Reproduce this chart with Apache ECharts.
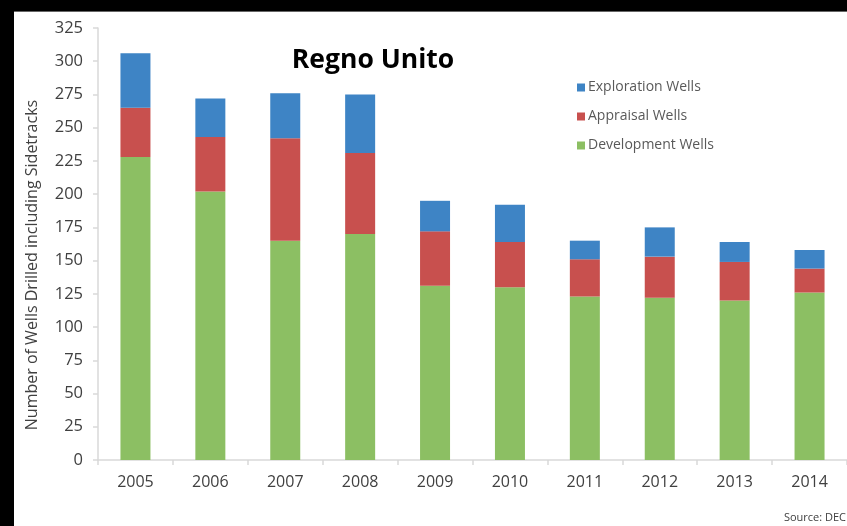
<!DOCTYPE html>
<html>
<head>
<meta charset="utf-8">
<script src="https://cdn.jsdelivr.net/npm/echarts@6/dist/echarts.min.js"></script>
<style>
  html, body { margin: 0; padding: 0; background: #000; }
  #wrap { position: absolute; left: 14px; top: 11px; width: 833px; height: 515px; overflow: hidden;
          background: #fff; border-top: 1px solid #666; }
  #chart { position: absolute; left: -14px; top: -12px; width: 847px; height: 526px; }
</style>
</head>
<body>
<div id="wrap">
  <div id="chart"></div>
</div>
<script>
// Wells drilled on the UK continental shelf, by well type
const years = ['2005', '2006', '2007', '2008', '2009', '2010', '2011', '2012', '2013', '2014'];
const developmentWells = [228, 202, 165, 170, 131, 130, 123, 122, 120, 126];
const appraisalWells   = [37, 41, 77, 61, 41, 34, 28, 31, 29, 18];
const explorationWells = [41, 29, 34, 44, 23, 28, 14, 22, 15, 14];
const yTicks = { min: 0, max: 325, interval: 25 };

const FONT = '"Open Sans", "Noto Sans", sans-serif';
const textGrey = '#595959';
const labelGrey = '#404040';
const axisGrey = '#d9d9d9';

const chart = echarts.init(document.getElementById('chart'));

const barSeries = (name, data, color) => ({
  name,
  type: 'bar',
  stack: 'wells',
  data,
  barWidth: 30,
  itemStyle: { color },
  emphasis: { disabled: true }
});

chart.setOption({
  animation: false,
  backgroundColor: 'transparent',
  textStyle: { fontFamily: FONT },
  grid: { left: 98, top: 28, width: 754, height: 432, containLabel: false },
  legend: {
    orient: 'vertical',
    left: 572,
    top: 73,
    itemWidth: 8,
    itemHeight: 8,
    itemGap: 10,
    icon: 'rect',
    data: ['Exploration Wells', 'Appraisal Wells', 'Development Wells'],
    textStyle: { fontFamily: FONT, fontSize: 14, lineHeight: 19, color: textGrey, padding: [0, 0, 0, -2] }
  },
  xAxis: {
    type: 'category',
    data: years,
    axisLine: { lineStyle: { color: axisGrey, width: 1.5 } },
    axisTick: { show: true, length: 5, lineStyle: { color: axisGrey, width: 1.5 } },
    axisLabel: { fontFamily: FONT, fontSize: 16, color: labelGrey, margin: 14 }
  },
  yAxis: {
    type: 'value',
    min: yTicks.min,
    max: yTicks.max,
    interval: yTicks.interval,
    splitLine: { show: false },
    axisLine: { show: true, lineStyle: { color: axisGrey, width: 1.5 } },
    axisTick: { show: true, length: 5, lineStyle: { color: axisGrey, width: 1.5 } },
    axisLabel: { fontFamily: FONT, fontSize: 16.5, color: labelGrey, margin: 15 }
  },
  series: [
    barSeries('Development Wells', developmentWells, '#8cbf63'),
    barSeries('Appraisal Wells', appraisalWells, '#c8504e'),
    barSeries('Exploration Wells', explorationWells, '#3e84c5')
  ],
  graphic: [
    {
      type: 'text', x: 373, y: 60, z: 100,
      style: { text: 'Regno Unito', fontFamily: FONT, fontWeight: 'bold', fontSize: 26.5, fill: '#000',
               align: 'center', verticalAlign: 'middle' }
    },
    {
      type: 'text', x: 32, y: 265, rotation: Math.PI / 2, z: 100,
      style: { text: 'Number of Wells Drilled including Sidetracks', fontFamily: FONT, fontSize: 16,
               fill: labelGrey, align: 'center', verticalAlign: 'middle' }
    },
    {
      type: 'text', x: 846, y: 518, z: 100,
      style: { text: 'Source: DEC', fontFamily: FONT, fontSize: 11, fill: labelGrey,
               align: 'right', verticalAlign: 'middle' }
    }
  ]
});
</script>
</body>
</html>
